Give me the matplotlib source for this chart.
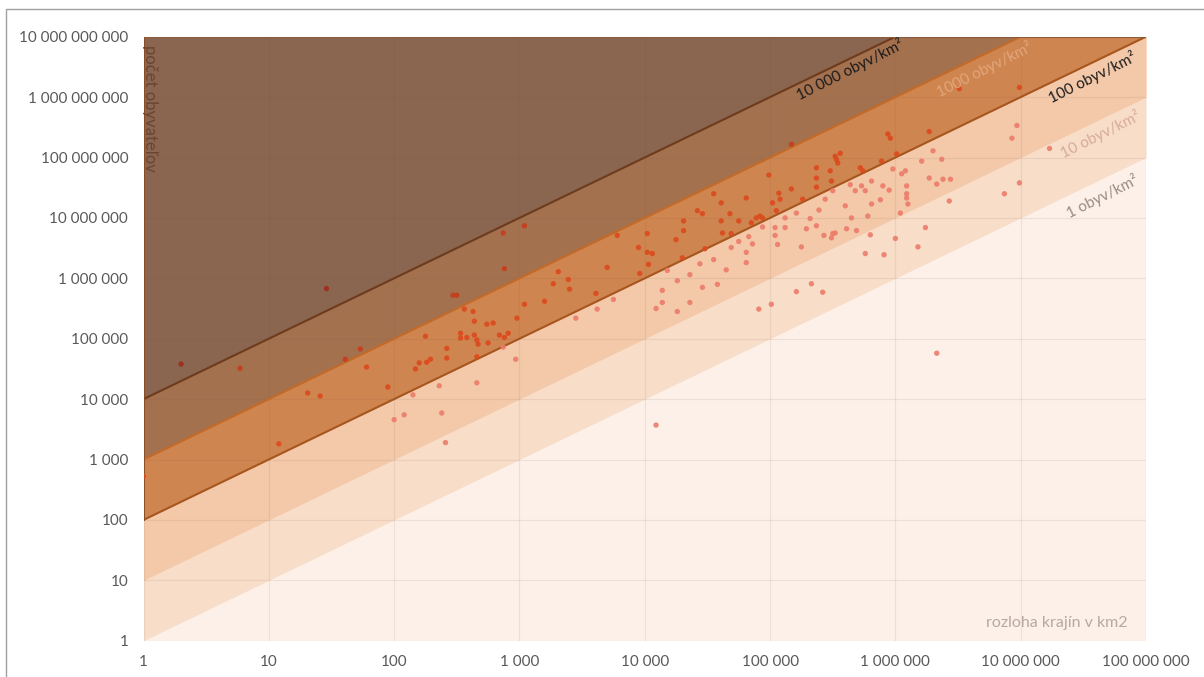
import numpy as np
import matplotlib
matplotlib.use("Agg")
import matplotlib.pyplot as plt
from matplotlib.patches import Rectangle
from matplotlib.ticker import NullLocator

plt.rcParams['font.family'] = ['Lato', 'DejaVu Sans']

# density lines, obyv/km2
densities = [1, 10, 100, 1000, 10000]
density_labels = ["1 obyv/km²", "10 obyv/km²", "100 obyv/km²",
                  "1000 obyv/km²", "10 000 obyv/km²"]

x_ticks = [1, 10, 100, 1e3, 1e4, 1e5, 1e6, 1e7, 1e8]
x_ticklabels = ["1", "10", "100", "1 000", "10 000", "100 000",
                "1 000 000", "10 000 000", "100 000 000"]
y_ticks = [1, 10, 100, 1e3, 1e4, 1e5, 1e6, 1e7, 1e8, 1e9, 1e10]
y_ticklabels = ["1", "10", "100", "1 000", "10 000", "100 000", "1 000 000",
                "10 000 000", "100 000 000", "1 000 000 000", "10 000 000 000"]

# log10 of area (km2) and of population
area_exp = [
    0.00, 0.30, 0.77, 1.46, 1.73, 1.78, 1.61, 1.31, 1.41, 1.08,
    1.95, 2.25, 2.17, 2.20, 2.26, 2.29, 2.42, 2.42, 2.15, 2.36,
    2.00, 2.08, 2.38, 2.41, 2.47, 2.50, 2.56, 2.63, 2.64, 2.53,
    2.53, 2.58, 2.64, 2.66, 2.67, 2.74, 2.79, 2.75, 2.66, 2.66,
    2.84, 2.88, 2.91, 2.87, 3.04, 2.88, 2.98, 3.04, 2.97, 2.87,
    3.20, 3.27, 3.31, 3.39, 3.40, 3.45, 3.61, 3.62, 3.70, 3.75,
    3.78, 3.95, 4.02, 4.02, 4.06, 4.03, 3.96, 4.09, 4.14, 4.14,
    4.18, 4.25, 4.26, 4.26, 4.30, 4.31, 4.31, 4.36, 4.36, 4.42,
    4.46, 4.44, 4.46, 4.48, 4.55, 4.55, 4.58, 4.61, 4.61, 4.62,
    4.65, 4.68, 4.69, 4.69, 4.75, 4.75, 4.81, 4.81, 4.81, 4.83,
    4.85, 4.86, 4.89, 4.92, 4.94, 4.91, 4.94, 4.99, 5.01, 5.02,
    5.04, 5.04, 5.05, 5.06, 5.07, 5.08, 5.12, 5.12, 5.17, 5.17,
    5.21, 5.21, 5.25, 5.26, 5.29, 5.32, 5.33, 5.37, 5.37, 5.37,
    5.37, 5.39, 5.42, 5.43, 5.44, 5.48, 5.49, 5.49, 5.50, 5.52,
    5.50, 5.52, 5.56, 5.53, 5.54, 5.60, 5.61, 5.64, 5.65, 5.68,
    5.69, 5.72, 5.74, 5.73, 5.76, 5.76, 5.78, 5.80, 5.81, 5.81,
    5.88, 5.89, 5.90, 5.91, 5.94, 5.96, 5.95, 5.98, 6.00, 6.01,
    6.04, 6.05, 6.08, 6.09, 6.09, 6.09, 6.10, 6.18, 6.21, 6.24,
    6.27, 6.27, 6.30, 6.33, 6.37, 6.38, 6.44, 6.43, 6.33, 4.09,
    6.51, 6.99, 6.97, 6.93, 7.23, 6.87, 6.99,
]
pop_exp = [
    2.72, 4.58, 4.51, 5.83, 4.83, 4.53, 4.66, 4.10, 4.05, 3.26,
    4.20, 5.04, 4.50, 4.60, 4.61, 4.66, 4.84, 4.68, 4.07, 4.22,
    3.66, 3.74, 3.77, 3.28, 5.72, 5.72, 5.49, 5.45, 5.29, 5.09,
    5.01, 5.02, 5.06, 4.98, 4.91, 5.24, 5.26, 4.93, 4.70, 4.27,
    5.06, 5.02, 5.09, 6.75, 6.87, 6.16, 5.34, 5.57, 4.66, 4.86,
    5.62, 5.91, 6.11, 5.98, 5.82, 5.34, 5.75, 5.49, 6.18, 5.65,
    6.71, 6.51, 6.74, 6.43, 6.41, 6.23, 6.08, 5.50, 5.80, 5.60,
    6.13, 6.64, 5.96, 5.45, 6.34, 6.95, 6.79, 6.06, 5.60, 7.12,
    7.07, 6.24, 5.85, 6.49, 7.40, 6.31, 5.90, 7.25, 6.95, 6.75,
    6.14, 7.07, 6.74, 6.51, 6.95, 6.61, 6.43, 6.26, 7.33, 6.69,
    6.92, 6.57, 7.00, 7.03, 7.00, 5.49, 6.85, 7.71, 5.57, 7.25,
    6.84, 6.71, 7.12, 6.56, 7.41, 7.31, 7.00, 6.84, 8.22, 7.48,
    5.78, 7.08, 6.52, 7.31, 6.82, 6.99, 5.91, 6.87, 7.83, 7.66,
    7.51, 7.13, 5.77, 6.71, 7.31, 7.78, 7.61, 6.67, 6.74, 6.75,
    7.45, 8.02, 8.07, 7.97, 7.91, 7.20, 6.82, 7.55, 7.00, 7.45,
    6.79, 7.83, 7.78, 7.53, 7.45, 6.41, 7.03, 6.72, 7.61, 7.23,
    7.30, 7.94, 7.53, 6.39, 8.39, 8.32, 7.46, 7.81, 6.66, 8.06,
    7.08, 7.73, 7.78, 7.53, 7.40, 7.33, 7.23, 6.52, 7.94, 6.84,
    8.43, 7.66, 8.11, 7.56, 7.97, 7.64, 7.64, 7.28, 4.76, 3.57,
    9.14, 9.16, 8.53, 8.32, 8.15, 7.40, 7.58,
]

area = 10 ** np.array(area_exp)
pop = 10 ** np.array(pop_exp)
dens = pop / area

# colours
band_colors = ['#fcf0e8', '#f8ddc9', '#f4c9aa', '#cf8550', '#a4714f', '#8a6650']
line_colors = {100: '#a8561f', 1000: '#c46a28', 10000: '#6e3c1c'}
label_colors = ['#9a8a84', '#d6ab9a', '#1a1a1a', '#e2a67c', '#1a1a1a']
dot_colors = ['#ec7c6a', '#dc4a1c', '#c63c1c', '#a02a1c']

fig = plt.figure(figsize=(12.04, 6.77), dpi=100)
ax = fig.add_axes([143.5 / 1204, 1 - 640.7 / 677, 1002.5 / 1204, 604 / 677])
ax.set_xscale('log')
ax.set_yscale('log')
ax.set_xlim(1, 1e8)
ax.set_ylim(1, 1e10)
ax.set_facecolor(band_colors[0])

top = 1e10
xs = np.logspace(0, 8, 400)
for d, col in zip(densities, band_colors[1:]):
    ax.fill_between(xs, np.minimum(d * xs, top), top, color=col, lw=0, zorder=1)

# grid
for t in x_ticks:
    ax.axvline(t, color='#7a5a48', alpha=0.1, lw=0.9, zorder=2)
for t in y_ticks:
    ax.axhline(t, color='#7a5a48', alpha=0.1, lw=0.9, zorder=2)

# density lines
for d, col in line_colors.items():
    ax.plot(xs, np.minimum(d * xs, top), color=col, lw=1.5, zorder=4)
ax.plot([1, 1], [100, top], color='#8a4a20', lw=1.3, zorder=4)
ax.plot([1, 1e8], [top, top], color='#8a5a3a', lw=1.5, zorder=4)

# points, coloured by density band
cls = np.digitize(dens, [100, 1000, 10000])
cols = [dot_colors[c] for c in cls]
ax.scatter(area, pop, s=15, c=cols, lw=0, alpha=0.9, zorder=5)

# density labels (pixel-placed)
label_pos = [(1102, 196), (1100, 134), (1092, 77), (984, 69), (850, 70)]
for txt, (px, py), col in zip(density_labels, label_pos, label_colors):
    ax.text((px - 143.5) / 1002.5, (640.7 - py) / 604, txt, transform=ax.transAxes,
            rotation=26.5, rotation_mode='anchor', ha='center', va='center',
            fontsize=11, color=col, zorder=6)

ax.text(0.0065, 0.986, "počet obyvateľov", transform=ax.transAxes, rotation=270,
        ha='center', va='top', fontsize=12, color='#6a4530', zorder=6)
ax.text(0.982, 0.029, "rozloha krajín v km2", transform=ax.transAxes,
        ha='right', va='center', fontsize=11.5, color='#b8a8a0', zorder=6)

ax.set_xticks(x_ticks)
ax.set_xticklabels(x_ticklabels)
ax.set_yticks(y_ticks)
ax.set_yticklabels(y_ticklabels)
ax.xaxis.set_minor_locator(NullLocator())
ax.yaxis.set_minor_locator(NullLocator())
ax.tick_params(length=0, labelsize=11, labelcolor='#595959')
ax.tick_params(axis='x', pad=10)
ax.tick_params(axis='y', pad=11)
for s in ax.spines.values():
    s.set_visible(False)

fig.patches.append(Rectangle((5.5 / 1204, -0.1), 1.5, 1.1 - 9 / 677, fill=False,
                             edgecolor='#a0a0a0', lw=1.0, transform=fig.transFigure))

fig.savefig("out.png", dpi=100)
